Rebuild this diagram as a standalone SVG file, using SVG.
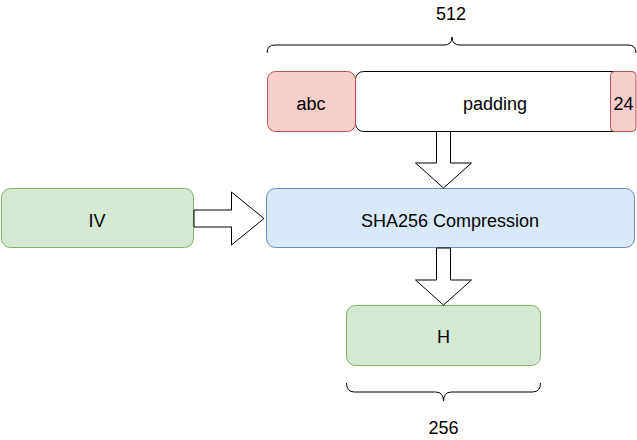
<svg xmlns="http://www.w3.org/2000/svg" width="637" height="440" viewBox="0 0 637 440">
<style>
text{font-family:"Liberation Sans",Arial,sans-serif;font-size:18px;fill:#000;text-anchor:middle}
.red{fill:#f8cecc;stroke:#b85450}
.green{fill:#d5e8d4;stroke:#82b366}
.blue{fill:#dae8fc;stroke:#6c8ebf}
.white{fill:#fff;stroke:#000}
.arrow{fill:#fff;stroke:#000;stroke-width:1}
.brace{fill:none;stroke:#000;stroke-width:1}
</style>
<rect width="637" height="440" fill="#fff"/>
<g id="brace512">
<path class="brace" d="M267,53 Q267,45 275,45 L444,45 Q452,45 452,37 Q452,45 460,45 L628,45 Q636,45 636,53"/>
<text x="451" y="20">512</text>
</g>
<g id="padding">
<rect class="white" x="355.5" y="71.5" width="280" height="60" rx="8"/>
<text x="495" y="110">padding</text>
</g>
<g id="abc">
<rect class="red" x="267.5" y="71.5" width="88" height="60" rx="8"/>
<text x="311" y="110">abc</text>
</g>
<g id="len24">
<rect class="red" x="610.5" y="71.5" width="25.5" height="60" rx="4"/>
<text x="623.5" y="110">24</text>
</g>
<g id="iv">
<rect class="green" x="1.5" y="188.5" width="192" height="59" rx="9"/>
<text x="97" y="227">IV</text>
</g>
<g id="sha256">
<rect class="blue" x="266.5" y="188.5" width="368" height="59" rx="9"/>
<text x="450" y="227">SHA256 Compression</text>
</g>
<g id="h">
<rect class="green" x="346.5" y="305.5" width="194" height="60" rx="9"/>
<text x="443.5" y="343">H</text>
</g>
<g id="brace256">
<path class="brace" d="M346.5,383 Q346.5,392 354.5,392 L435.5,392 Q443.5,392 443.5,401 Q443.5,392 451.5,392 L532.5,392 Q540.5,392 540.5,383"/>
<text x="443.5" y="434">256</text>
</g>
<g id="connectors">
<path class="arrow" d="M436.5,131.5 L450.5,131.5 L450.5,163 L471.5,163 L443.5,188 L415.5,163 L436.5,163 Z"/>
<path class="arrow" d="M436.5,248 L450.5,248 L450.5,280 L471.5,280 L443.5,305 L415.5,280 L436.5,280 Z"/>
<path class="arrow" d="M194,210 L231.5,210 L231.5,192 L264,218.5 L231.5,245 L231.5,227 L194,227 Z"/>
</g>
</svg>
